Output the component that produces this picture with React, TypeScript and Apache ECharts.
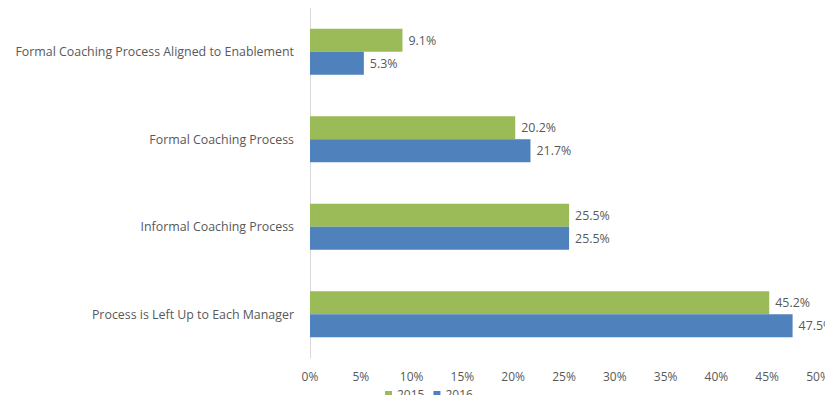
import React, { useEffect, useRef } from "react";
import * as echarts from "echarts";

const categories = [
  "Formal Coaching Process Aligned to Enablement",
  "Formal Coaching Process",
  "Informal Coaching Process",
  "Process is Left Up to Each Manager",
];
const seriesNames = ["2015", "2016"];
const values2015 = [9.1, 20.2, 25.5, 45.2];
const values2016 = [5.3, 21.7, 25.5, 47.5];
const xTicks = { min: 0, max: 50, interval: 5 };

const FONT = "'Open Sans', sans-serif";
const TEXT = "#595959";
const FS = 12.4;

export default function App() {
  const ref = useRef<HTMLDivElement>(null);
  useEffect(() => {
    if (!ref.current) return;
    const chart = echarts.init(ref.current, undefined, { renderer: "svg" });
    const label = {
      show: true,
      position: "right",
      distance: 6,
      color: TEXT,
      fontFamily: FONT,
      fontSize: FS,
      formatter: (p: any) => p.value.toFixed(1) + "%",
    };
    chart.setOption({
      animation: false,
      textStyle: { fontFamily: FONT },
      grid: { left: 310, right: 15, top: 8, height: 350, containLabel: false },
      legend: {
        data: seriesNames,
        left: 385,
        top: 388,
        padding: 0,
        itemWidth: 7,
        itemHeight: 7,
        itemGap: 9,
        icon: "rect",
        textStyle: { color: TEXT, fontFamily: FONT, fontSize: 12, lineHeight: 13 },
      },
      xAxis: {
        type: "value",
        min: xTicks.min,
        max: xTicks.max,
        interval: xTicks.interval,
        axisLine: { show: false },
        axisTick: { show: false },
        splitLine: { show: false },
        axisLabel: {
          color: TEXT,
          fontFamily: FONT,
          fontSize: 12,
          lineHeight: 13,
          margin: 12,
          formatter: (v: number) => v + "%",
        },
      },
      yAxis: {
        type: "category",
        data: categories,
        inverse: true,
        axisLine: { show: true, lineStyle: { color: "#d9d9d9" } },
        axisTick: { show: false },
        axisLabel: {
          color: TEXT,
          fontFamily: FONT,
          fontSize: FS,
          margin: 16,
        },
      },
      series: [
        {
          name: seriesNames[0],
          type: "bar",
          data: values2015,
          itemStyle: { color: "#9BBB59" },
          barGap: "0%",
          barCategoryGap: "47.4%",
          label,
        },
        {
          name: seriesNames[1],
          type: "bar",
          data: values2016,
          itemStyle: { color: "#4F81BD" },
          barGap: "0%",
          barCategoryGap: "47.4%",
          label,
        },
      ],
    });
    return () => chart.dispose();
  }, []);
  return <div ref={ref} style={{ width: 833, height: 403, margin: -8 }} />;
}
